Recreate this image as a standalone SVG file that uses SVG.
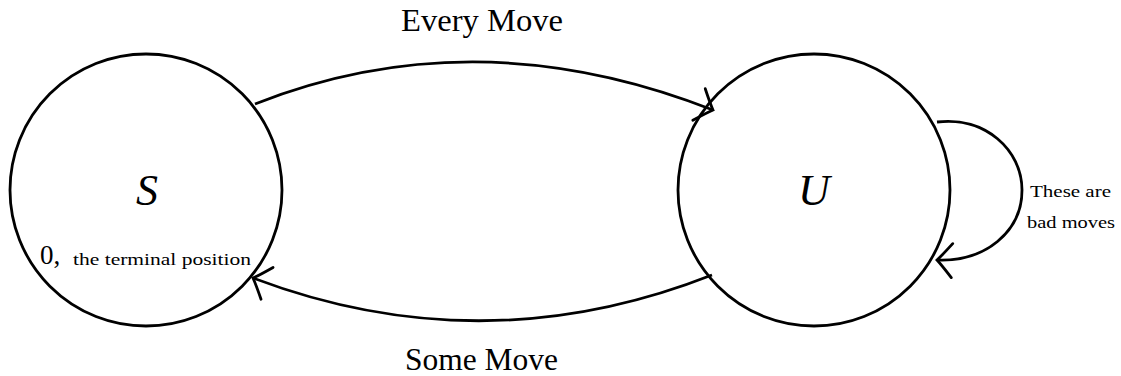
<svg xmlns="http://www.w3.org/2000/svg" width="1121" height="376" viewBox="0 0 1121 376">
<style>
.st{fill:none;stroke:#000;stroke-width:2.8}
.e{fill:none;stroke:#000;stroke-width:2.8}
.t{font-family:"Liberation Serif","DejaVu Serif",serif;fill:#000}
</style>
<defs>
<marker id="ah" markerUnits="userSpaceOnUse" markerWidth="40" markerHeight="40" refX="0" refY="0" viewBox="-25 -20 40 40" orient="auto" overflow="visible">
<path d="M-15,-17 Q-5,-5 0,0 Q-5,5 -15,17" fill="none" stroke="#000" stroke-width="2.8" stroke-linecap="round"/>
</marker>
</defs>
<rect width="1121" height="376" fill="#fff"/>
<g id="connectors">
<path class="e" d="M255,104 Q476,17 713,110" marker-end="url(#ah)"/>
<path class="e" d="M712,275 Q483,365 253,278" marker-end="url(#ah)"/>
<path class="e" d="M937,122 C985,116 1022,150 1022,190 C1022,232 985,262 937,260" marker-end="url(#ah)"/>
</g>
<g id="node-S">
<circle class="st" cx="146" cy="190" r="136"/>
<text class="t" x="147" y="205" font-size="44" font-style="italic" text-anchor="middle">S</text>
<text class="t" x="40" y="264" font-size="27">0,</text>
<text class="t" x="73" y="265" font-size="16" textLength="178" lengthAdjust="spacingAndGlyphs">the terminal position</text>
</g>
<g id="node-U">
<circle class="st" cx="814" cy="190" r="136"/>
<text class="t" x="814" y="205" font-size="44" font-style="italic" text-anchor="middle">U</text>
</g>
<g id="labels">
<text class="t" x="401" y="31" font-size="32" textLength="162" lengthAdjust="spacingAndGlyphs">Every Move</text>
<text class="t" x="405" y="370" font-size="32" textLength="153" lengthAdjust="spacingAndGlyphs">Some Move</text>
<text class="t" x="1030" y="197" font-size="16" textLength="81" lengthAdjust="spacingAndGlyphs">These are</text>
<text class="t" x="1027" y="228" font-size="16" textLength="88" lengthAdjust="spacingAndGlyphs">bad moves</text>
</g>
</svg>
